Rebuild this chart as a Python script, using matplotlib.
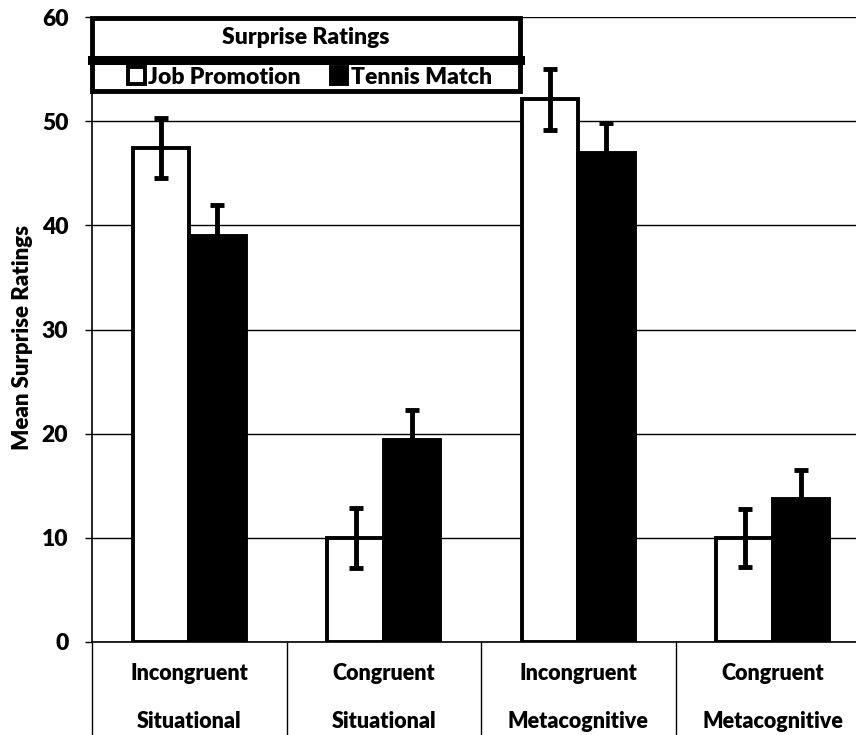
import matplotlib
matplotlib.use("Agg")
import matplotlib.pyplot as plt
from matplotlib.patches import Rectangle
from matplotlib.lines import Line2D
import numpy as np

plt.rcParams['font.family'] = ['Lato', 'DejaVu Sans']
plt.rcParams['font.weight'] = 800
FW = 800

# ---- data ----
conditions = ["Incongruent", "Congruent", "Incongruent", "Congruent"]
surprise_types = ["Situational", "Situational", "Metacognitive", "Metacognitive"]
series_names = ["Job Promotion", "Tennis Match"]
job_promotion = [47.4, 10.0, 52.1, 10.0]
job_promotion_err = [2.9, 2.9, 2.9, 2.8]
tennis_match = [39.0, 19.4, 46.9, 13.7]
tennis_match_err = [3.0, 2.9, 2.9, 2.8]
yticks = [0, 10, 20, 30, 40, 50, 60]
title = "Surprise Ratings"
ylabel = "Mean Surprise Ratings"

W, H = 856, 735
def fx(px):
    return px / W
def fy(py):
    return 1 - py / H

fig = plt.figure(figsize=(W / 100, H / 100), dpi=100)
ax = fig.add_axes([fx(92), fy(642), 778 / W, 625 / H])

n = len(conditions)
x = np.arange(n) + 0.5
bw = 0.29
b1 = ax.bar(x - bw / 2, job_promotion, bw, color='white', edgecolor='black',
            linewidth=2.8, zorder=3)
b2 = ax.bar(x + bw / 2, tennis_match, bw, color='black', edgecolor='black',
            linewidth=2.8, zorder=3)
ax.errorbar(x - bw / 2, job_promotion, yerr=job_promotion_err, fmt='none',
            ecolor='black', elinewidth=3.5, capsize=5, capthick=3.5, zorder=4)
ax.errorbar(x + bw / 2, tennis_match, yerr=tennis_match_err, fmt='none',
            ecolor='black', elinewidth=3.5, capsize=5, capthick=3.5, zorder=4)

ax.set_xlim(0, n)
ax.set_ylim(yticks[0], yticks[-1])
ax.set_yticks(yticks)
ax.yaxis.grid(True, color='black', linewidth=1.0)
ax.set_axisbelow(True)
ax.tick_params(axis='y', direction='out', length=5, width=1, pad=12, labelsize=16.5)
for lab in ax.get_yticklabels():
    lab.set_fontweight(FW)

ax.set_xticks(np.arange(n + 1))
ax.set_xticklabels([])
ax.tick_params(axis='x', direction='out', length=70, width=1)

for s in ['top', 'right']:
    ax.spines[s].set_visible(False)
ax.spines['left'].set_linewidth(1.2)
ax.spines['bottom'].set_linewidth(1.2)

tr = ax.get_xaxis_transform()
for xi, c, t in zip(x, conditions, surprise_types):
    ax.text(xi, (642 - 673) / 625, c, transform=tr, ha='center', va='center',
            fontsize=15.5, fontweight=FW)
    ax.text(xi, (642 - 722) / 625, t, transform=tr, ha='center', va='center',
            fontsize=15.5, fontweight=FW)

fig.text(fx(23), fy(337), ylabel, rotation=90, ha='center', va='center',
         fontsize=16, fontweight=FW)

# title / legend box
box = Rectangle((fx(92), fy(91)), (520 - 92) / W, (91 - 17.5) / H,
                transform=fig.transFigure, facecolor='white', edgecolor='black',
                linewidth=3.5, zorder=4)
fig.add_artist(box)
div = Line2D([fx(92), fx(520)], [fy(59.5), fy(59.5)], transform=fig.transFigure,
             color='black', linewidth=6.5, zorder=5)
fig.add_artist(div)
t = fig.text(fx(306), fy(37), title, ha='center', va='center', fontsize=16.5,
             fontweight=FW, zorder=6)

leg = fig.legend(handles=[b1, b2], labels=series_names, loc='center',
                 bbox_to_anchor=(fx(310), fy(77)), ncol=2, frameon=False,
                 handlelength=0.72, handleheight=0.72,
                 handletextpad=0.15, columnspacing=1.3,
                 borderpad=0.0,
                 prop={'weight': FW, 'size': 16.5})
leg.set_zorder(7)

fig.savefig("out.png", dpi=100)
